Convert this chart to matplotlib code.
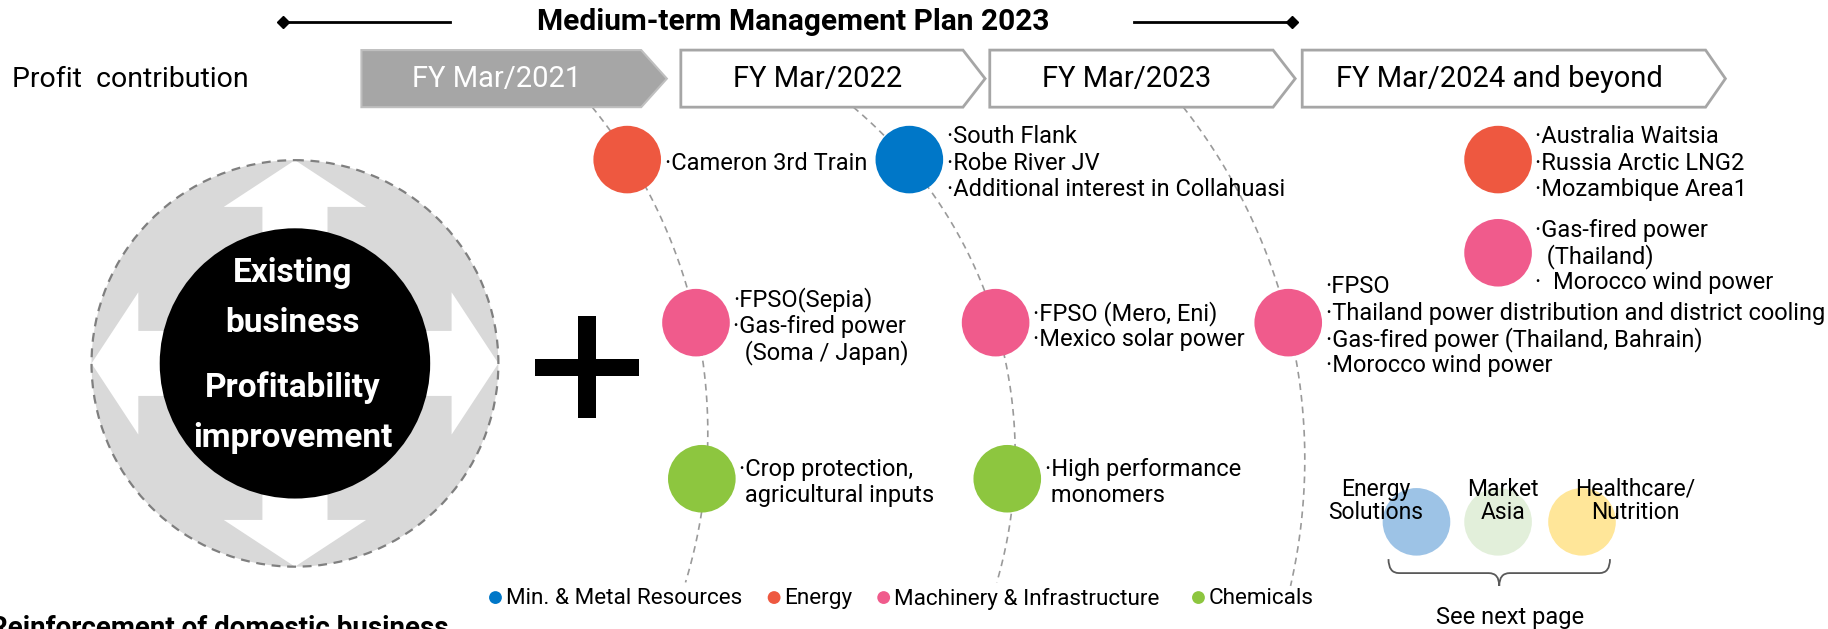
import numpy as np
import matplotlib.pyplot as plt
from matplotlib.patches import Polygon, Circle, PathPatch
from matplotlib.path import Path

plt.rcParams['font.family'] = ['Roboto', 'DejaVu Sans']

# ---- content ----
title = 'Medium-term Management Plan 2023'
row_label = 'Profit  contribution'
periods = ['FY Mar/2021', 'FY Mar/2022', 'FY Mar/2023', 'FY Mar/2024 and beyond']

groups = ['Min. & Metal Resources', 'Energy', 'Machinery & Infrastructure', 'Chemicals']
group_colors = ['#0077c8', '#ee5840', '#f05b8c', '#8dc63f']

project_group = [1, 0, 2, 2, 2, 3, 3, 1, 2]
project_lines = [
    ['·Cameron 3rd Train'],
    ['·South Flank', '·Robe River JV', '·Additional interest in Collahuasi'],
    ['·FPSO(Sepia)', '·Gas-fired power', '  (Soma / Japan)'],
    ['·FPSO (Mero, Eni)', '·Mexico solar power'],
    ['·FPSO', '·Thailand power distribution and district cooling',
     '·Gas-fired power (Thailand, Bahrain)', '·Morocco wind power'],
    ['·Crop protection,', ' agricultural inputs'],
    ['·High performance', ' monomers'],
    ['·Australia Waitsia', '·Russia Arctic LNG2', '·Mozambique Area1'],
    ['·Gas-fired power', '  (Thailand)', '·  Morocco wind power'],
]

core_lines = ['Existing', 'business', 'Profitability', 'improvement']
new_fields = ['Energy\nSolutions', 'Market\nAsia', 'Healthcare/\nNutrition']
new_colors = ['#9dc3e6', '#e2efda', '#ffe699']
footer = 'Reinforcement of domestic business'

# ---- layout (drawing units, 1568 x 540) ----
W, H = 1568, 540
project_xy = [(538, 137), (780, 137), (597, 277), (854, 277), (1105, 277),
              (602, 411), (864, 411), (1285, 137), (1285, 217)]
r_dot = 29
line_gap = 22.5
chevrons = [(310, 550, 572), (584, 826, 845), (849, 1092, 1111), (1117, 1463, 1480)]
arcs = [[(508, 92), (597, 277), (588, 500)],
        [(732, 92), (854, 277), (855, 500)],
        [(1015, 92), (1105, 277), (1107, 503)]]

fig = plt.figure(figsize=(18.28, 6.29), dpi=100)
ax = fig.add_axes([0, 0, 1, 1])
ax.set_xlim(0, W)
ax.set_ylim(H, 0)
ax.axis('off')

# title with arrows
ax.text(680, 19, title, ha='center', va='center', fontsize=21.5, fontweight='bold')
ax.plot([243, 386], [19, 19], color='black', lw=2)
ax.plot([973, 1108], [19, 19], color='black', lw=2)
ax.plot([243, 1108], [19, 19], 'D', color='black', ms=6)

ax.text(10, 68, row_label, ha='left', va='center', fontsize=20.5)

# period chevrons
for i, (name, (x0, x1, xt)) in enumerate(zip(periods, chevrons)):
    pts = [(x0, 43), (x1, 43), (xt, 67.5), (x1, 92), (x0, 92)]
    if i == 0:
        ax.add_patch(Polygon(pts, closed=True, fc='#a6a6a6', ec='#bfbfbf', lw=1.5, zorder=3))
        col = 'white'
    else:
        ax.add_patch(Polygon(pts, closed=True, fc='white', ec='#a6a6a6', lw=2, zorder=3))
        col = 'black'
    ax.text((x0 + x1) / 2 - 4, 68, name, ha='center', va='center', fontsize=21,
            color=col, zorder=4)


# dashed timeline arcs
def circle3(p1, p2, p3):
    (x1, y1), (x2, y2), (x3, y3) = p1, p2, p3
    d = 2 * (x1 * (y2 - y3) + x2 * (y3 - y1) + x3 * (y1 - y2))
    ux = ((x1**2 + y1**2) * (y2 - y3) + (x2**2 + y2**2) * (y3 - y1) + (x3**2 + y3**2) * (y1 - y2)) / d
    uy = ((x1**2 + y1**2) * (x3 - x2) + (x2**2 + y2**2) * (x1 - x3) + (x3**2 + y3**2) * (x2 - x1)) / d
    return ux, uy, np.hypot(x1 - ux, y1 - uy)


for p1, p2, p3 in arcs:
    cx, cy, rr = circle3(p1, p2, p3)
    a0 = np.arctan2(p1[1] - cy, p1[0] - cx)
    a1 = np.arctan2(p3[1] - cy, p3[0] - cx)
    t = np.linspace(a0, a1, 200)
    ax.plot(cx + rr * np.cos(t), cy + rr * np.sin(t), color='#9a9a9a', lw=1.2,
            dashes=(4, 3), zorder=1)

# project circles and labels
for g, lines, (x, y) in zip(project_group, project_lines, project_xy):
    ax.add_patch(Circle((x, y), r_dot, fc=group_colors[g], ec='none', zorder=2))
    n = len(lines)
    for k, s in enumerate(lines):
        ax.text(x + r_dot + 3, y + 3 + (k - (n - 1) / 2) * line_gap, s,
                ha='left', va='center', fontsize=17, zorder=4)

# existing business circle with four-way arrow
cx, cy, R = 253, 312, 174.5
ax.add_patch(Circle((cx, cy), R, fc='#d9d9d9', ec='none', zorder=1))
s, h, b = 0.16, 0.35, 0.77
quad = [(s, s), (s, b), (h, b), (0, 1), (-h, b), (-s, b), (-s, s), (-b, s), (-b, h),
        (-1, 0), (-b, -h), (-b, -s), (-s, -s), (-s, -b), (-h, -b), (0, -1), (h, -b),
        (s, -b), (s, -s), (b, -s), (b, -h), (1, 0), (b, h), (b, s)]
ax.add_patch(Polygon([(cx + u * R, cy - v * R) for u, v in quad], closed=True,
                     fc='white', ec='none', zorder=2))
ax.add_patch(Circle((cx, cy), R, fill=False, ec='#7f7f7f', lw=1.6, ls=(0, (4, 3)), zorder=3))
ax.add_patch(Circle((cx, cy), 116, fc='black', ec='none', zorder=4))
for txt, y in zip(core_lines, [234, 277, 333, 376]):
    ax.text(cx - 2, y, txt, ha='center', va='center', color='white', fontsize=24,
            fontweight='bold', zorder=5)

# plus sign
ax.add_patch(Polygon([(496, 271), (511, 271), (511, 359), (496, 359)], fc='black', ec='none'))
ax.add_patch(Polygon([(459, 308), (548, 308), (548, 323), (459, 323)], fc='black', ec='none'))

# legend
for name, col, x in zip(groups, group_colors, [425, 664, 758, 1028]):
    ax.add_patch(Circle((x, 513), 5.5, fc=col, ec='none'))
    ax.text(x + 9, 514, name, ha='left', va='center', fontsize=16.2)

# new business fields
for name, col, x in zip(new_fields, new_colors, [1215, 1285, 1357]):
    ax.add_patch(Circle((x, 448), r_dot, fc=col, ec='none', zorder=2))
for name, x in zip(new_fields, [1180, 1289, 1403]):
    ax.text(x, 430, name, ha='center', va='center', fontsize=16.5, linespacing=1.0, zorder=4)

# brace
verts = [(1191, 480), (1191, 492), (1200, 492), (1277, 492), (1286, 492), (1286, 503),
         (1286, 492), (1295, 492), (1372, 492), (1381, 492), (1381, 480)]
codes = [Path.MOVETO, Path.CURVE3, Path.CURVE3, Path.LINETO, Path.CURVE3, Path.CURVE3,
         Path.CURVE3, Path.CURVE3, Path.LINETO, Path.CURVE3, Path.CURVE3]
ax.add_patch(PathPatch(Path(verts, codes), fill=False, ec='#595959', lw=1.3))
ax.text(1295, 530, 'See next page', ha='center', va='center', fontsize=17)

ax.text(-9, 546, footer, ha='left', va='baseline', fontsize=20, fontweight='bold')

fig.savefig('out.png', dpi=100)
